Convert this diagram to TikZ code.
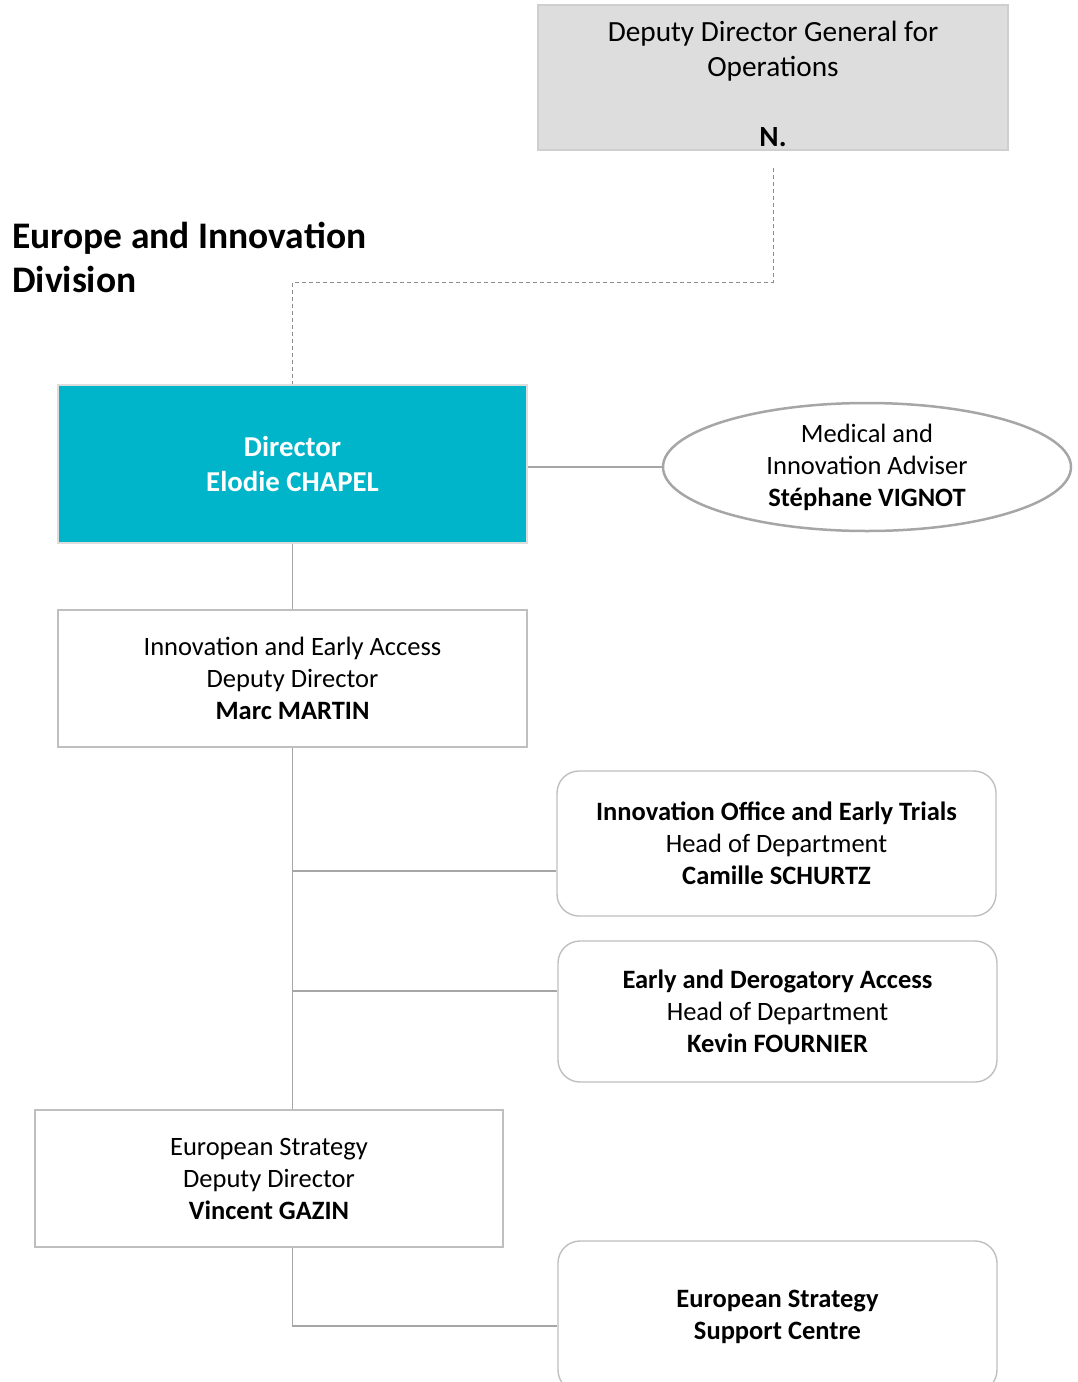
\documentclass[tikz,border=0pt]{standalone}
\usepackage{fontspec}
\setmainfont{Carlito}
\usetikzlibrary{shapes.geometric,calc}
\definecolor{dirteal}{HTML}{00B5C9}
\definecolor{boxgray}{HTML}{DDDDDD}
\definecolor{boxedge}{HTML}{BFBFBF}
\definecolor{linegray}{HTML}{A6A6A6}
\definecolor{dashgray}{HTML}{8C8C8C}
\begin{document}
\begin{tikzpicture}[x=1pt,y=-1pt,
  body/.style={font=\fontsize{26.5}{32}\selectfont, align=center, text=black},
  sqbox/.style={body, draw=boxedge, line width=1.4pt, fill=white, inner sep=0pt},
  rbox/.style={sqbox, rounded corners=22pt},
  conn/.style={draw=linegray, line width=1.3pt},
  dashline/.style={draw=dashgray, line width=1pt, dash pattern=on 4pt off 3pt}]
\useasboundingbox (0,0) rectangle (1077,1382);

% top box
\node[draw=boxgray!85!gray, fill=boxgray, line width=2pt, minimum width=470, minimum height=145, inner sep=0pt] (dg) at (773,77.5) {};
\node[font=\fontsize{29.3}{35}\selectfont, align=center, inner sep=0pt] (dgtext) at (773,84) {Deputy Director General for\\Operations\\[35pt]\textbf{N.}};

% title
\node[font=\fontsize{37.5}{44}\selectfont\bfseries, align=left, anchor=west, inner sep=0pt] (title) at (12,257) {Europe and Innovation\\Division};

% director
\node[draw=boxgray, fill=dirteal, line width=2pt, minimum width=469, minimum height=158, inner sep=0pt,
      font=\fontsize{28.8}{35}\selectfont\bfseries, text=white, align=center] (dir) at (292.5,464) {Director\\Elodie CHAPEL};

% adviser ellipse
\node[ellipse, draw=linegray, line width=2.5pt, fill=white, minimum width=408, minimum height=128, inner sep=0pt, body] (adv) at (867,467) {Medical and\\Innovation Adviser\\\textbf{Stéphane VIGNOT}};

% deputy directors
\node[sqbox, minimum width=469, minimum height=137] (marc) at (292.5,678.5) {Innovation and Early Access\\Deputy Director\\\textbf{Marc MARTIN}};
\node[sqbox, minimum width=468, minimum height=137] (gaz) at (269,1178.5) {European Strategy\\Deputy Director\\\textbf{Vincent GAZIN}};

% departments
\node[rbox, minimum width=439, minimum height=145] (cam) at (776.5,843.5) {\textbf{Innovation Office and Early Trials}\\Head of Department\\\textbf{Camille SCHURTZ}};
\node[rbox, minimum width=439, minimum height=141] (kev) at (777.5,1011.5) {\textbf{Early and Derogatory Access}\\Head of Department\\\textbf{Kevin FOURNIER}};
\node[rbox, minimum width=439, minimum height=151] (sup) at (777.5,1316.5) {\textbf{European Strategy}\\\textbf{Support Centre}};

% connectors
\coordinate (dgstart) at (773,168);
\draw[dashline] (dgstart) -- ++(0,114) -| (dir.north);
\draw[conn] (dir.east |- adv.west) -- (adv.west);
\draw[conn] (dir.south) -- (marc.north);
\draw[conn] (marc.south) -- (marc.south |- gaz.north);
\coordinate (camin) at ($(cam.west)+(0,27.5)$);
\coordinate (kevin) at ($(kev.west)+(0,-20.5)$);
\draw[conn] (marc.south |- camin) -- (camin);
\draw[conn] (marc.south |- kevin) -- (kevin);
\coordinate (supin) at ($(sup.west)+(0,9.5)$);
\draw[conn] (gaz.south -| marc.south) |- (supin);
\end{tikzpicture}
\end{document}
